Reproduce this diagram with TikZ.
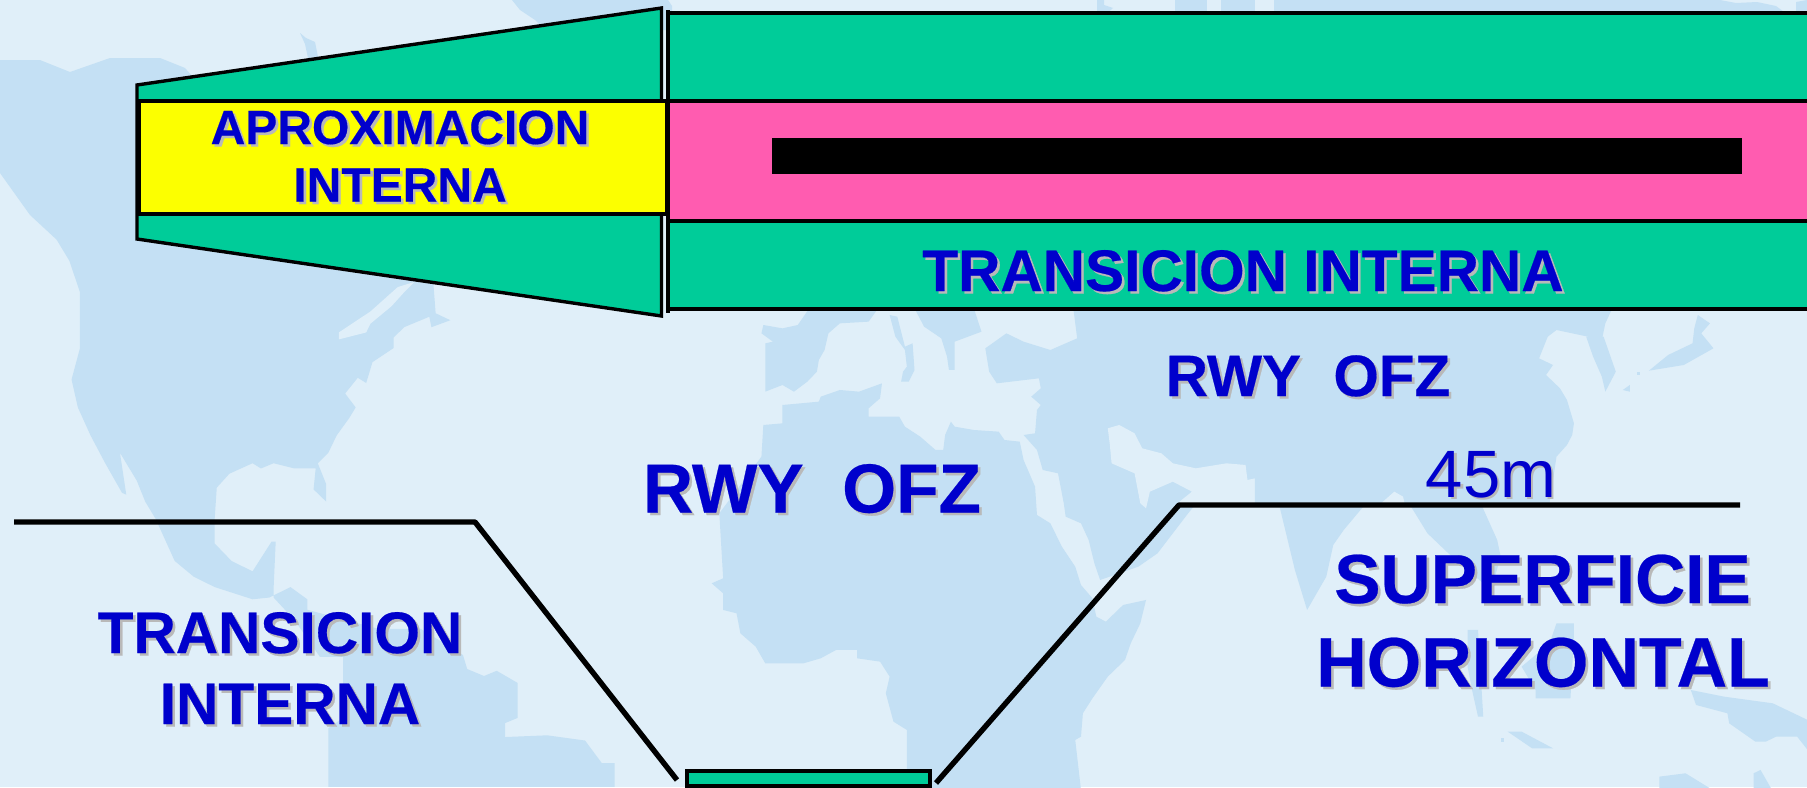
\documentclass[tikz,border=0pt]{standalone}
\usepackage{fontspec}
\setmainfont[BoldFeatures={FakeBold=0.35}]{Liberation Sans}
\definecolor{seabg}{HTML}{E0EFF9}
\definecolor{land}{HTML}{C4E0F4}
\definecolor{zonegreen}{HTML}{00CC99}
\definecolor{zonepink}{HTML}{FF5CB0}
\definecolor{zoneyellow}{HTML}{FCFF00}
\definecolor{labelblue}{HTML}{0000CC}
\definecolor{labelshadow}{HTML}{B9B9B9}
\newcommand{\fsz}[1]{\fontsize{#1}{#1}\selectfont}
\newcommand{\shlabel}[5][\bfseries]{%
  \node[labelshade,font={\fsz{#3}#1}] (#2s) at ([shift={(2.6,2.6)}]#4) {#5};
  \node[labeltext,font={\fsz{#3}#1}] (#2) at (#4) {#5};}
\tikzset{
  x=0.5pt,y=-0.5pt,
  labeltext/.style={anchor=base,inner sep=0pt,text=labelblue},
  labelshade/.style={anchor=base,inner sep=0pt,text=labelshadow},
  zone/.style={draw=black,line width=1.7pt,line join=miter},
  prof/.style={draw=black,line width=2.7pt,line join=round},
  landpart/.style={fill=land,draw=none},
  seapart/.style={fill=seabg,draw=none},
}
\begin{document}
\begin{tikzpicture}
\useasboundingbox (0,0) rectangle (1807,787);
\begin{scope}
\clip (0,0) rectangle (1807,787);
\fill[seabg] (0,0) rectangle (1807,787);
% ---- map, top
\fill[landpart] (0,60) -- (40,60) -- (70,72) -- (110,58) -- (160,58) -- (185,68) -- (200,85) -- (300,150) -- (300,240) -- (57,240) -- (30,215) -- (0,173) -- cycle;
\fill[landpart] (300,33) -- (306,38) -- (315,42) -- (318,57) -- (308,58) -- (305,44) -- cycle;
\fill[landpart] (512,0) -- (520,10) -- (535,20) -- (545,30) -- (672,30) -- (672,6) -- (668,0) -- cycle;
\fill[landpart] (1097,0) -- (1104,0) -- (1104,5) -- (1113,8) -- (1104,16) -- (1097,16) -- cycle;
\fill[landpart] (1175,0) -- (1207,0) -- (1207,16) -- (1175,16) -- cycle;
\fill[landpart] (1221,0) -- (1255,0) -- (1255,16) -- (1221,16) -- cycle;
\fill[landpart] (1274,0) -- (1720,0) -- (1736,3) -- (1757,2) -- (1776,6) -- (1784,12) -- (1784,16) -- (1274,16) -- cycle;
\fill[landpart] (1796,2) -- (1807,0) -- (1807,16) -- (1796,16) -- cycle;
% ---- Americas
\begin{scope}[shift={(0,240)},xscale=0.4209,yscale=0.3488]
\fill[landpart] (135,0) -- (165,60) -- (190,150) -- (190,310) -- (170,400) -- (185,480) -- (215,560) -- (250,640) -- (290,725) -- (300,730) -- (285,610) -- (325,690) -- (345,750) -- (370,800) -- (400,880) -- (415,920) -- (460,965) -- (510,995) -- (600,1030) -- (640,1025) -- (690,995) -- (730,1030) -- (730,1060) -- (900,1115) -- (1000,1115) -- (1100,1190) -- (1110,1230) -- (1150,1250) -- (1180,1235) -- (1230,1270) -- (1230,1370) -- (1200,1385) -- (1200,1425) -- (1300,1420) -- (1390,1435) -- (1430,1500) -- (1460,1500) -- (1460,1568) -- (780,1568) -- (780,1400) -- (815,1370) -- (815,1195) -- (760,1195) -- (700,1090) -- (650,1025) -- (650,1000) -- (655,865) -- (645,865) -- (600,950) -- (550,920) -- (510,870) -- (510,800) -- (515,710) -- (545,670) -- (600,640) -- (620,655) -- (650,640) -- (700,655) -- (750,655) -- (745,715) -- (775,750) -- (775,700) -- (755,640) -- (780,610) -- (800,560) -- (830,510) -- (845,480) -- (820,440) -- (850,395) -- (870,410) -- (885,350) -- (935,310) -- (935,280) -- (960,250) -- (1020,220) -- (1025,250) -- (1070,230) -- (1035,210) -- (1030,130) -- (1010,60) -- (700,0) -- cycle;
\fill[seapart] (805,265) -- (880,205) -- (945,135) -- (985,120) -- (960,150) -- (930,190) -- (880,240) -- (870,265) -- (805,285) -- cycle;
\end{scope}
% ---- Europe, Africa, Asia
\begin{scope}[shift={(660,300)},xscale=0.3827,yscale=0.3333]
\fill[landpart] (270,75) -- (320,85) -- (360,75) -- (390,25) -- (570,25) -- (545,65) -- (470,70) -- (440,100) -- (430,150) -- (415,180) -- (410,215) -- (385,245) -- (350,275) -- (320,255) -- (275,275) -- (275,130) -- (295,125) -- (265,100) -- cycle;
\fill[landpart] (600,45) -- (620,50) -- (640,140) -- (660,130) -- (665,210) -- (650,245) -- (630,245) -- (635,215) -- (645,200) -- (640,150) -- (615,110) -- cycle;
\fill[landpart] (665,25) -- (820,25) -- (840,95) -- (770,125) -- (770,210) -- (755,210) -- (750,170) -- (735,115) -- (690,80) -- cycle;
\fill[landpart] (270,375) -- (320,370) -- (320,315) -- (415,305) -- (420,290) -- (470,270) -- (520,275) -- (580,250) -- (575,295) -- (545,325) -- (545,350) -- (625,350) -- (640,380) -- (680,410) -- (720,450) -- (740,450) -- (745,405) -- (760,365) -- (770,380) -- (820,390) -- (885,395) -- (900,420) -- (940,425) -- (950,480) -- (980,560) -- (985,645) -- (1020,670) -- (1050,740) -- (1085,800) -- (1100,855) -- (1130,895) -- (1140,950) -- (1165,965) -- (1210,915) -- (1270,900) -- (1255,970) -- (1230,1030) -- (1215,1080) -- (1170,1130) -- (1130,1195) -- (1105,1240) -- (1100,1310) -- (1085,1320) -- (1100,1470) -- (645,1470) -- (645,1290) -- (610,1265) -- (590,1180) -- (600,1130) -- (575,1085) -- (515,1075) -- (515,1050) -- (460,1050) -- (420,1075) -- (375,1090) -- (275,1090) -- (250,1040) -- (210,1000) -- (200,940) -- (165,930) -- (165,880) -- (135,850) -- (165,835) -- (155,640) -- (265,470) -- cycle;
% Asia, Arabia
\fill[landpart] (1080,25) -- (1090,115) -- (1020,150) -- (950,125) -- (905,100) -- (850,145) -- (860,215) -- (880,250) -- (990,235) -- (995,265) -- (970,290) -- (995,315) -- (985,330) -- (980,400) -- (950,405) -- (985,450) -- (1000,510) -- (1040,520) -- (1055,610) -- (1060,650) -- (1100,670) -- (1120,720) -- (1135,790) -- (1150,840) -- (1250,800) -- (1300,760) -- (1380,640) -- (1400,612) -- (1580,612) -- (1580,25) -- cycle;
\fill[seapart] (1170,385) -- (1200,375) -- (1240,400) -- (1260,445) -- (1310,460) -- (1340,490) -- (1400,505) -- (1480,490) -- (1530,495) -- (1535,540) -- (1575,530) -- (1575,612) -- (1350,612) -- (1390,575) -- (1340,545) -- (1280,575) -- (1270,625) -- (1255,610) -- (1240,520) -- (1180,490) -- (1175,430) -- cycle;
\end{scope}
\begin{scope}[shift={(1260,300)},xscale=0.3488,yscale=0.3333]
% east Asia
\fill[landpart] (-15,25) -- (1010,25) -- (990,70) -- (980,120) -- (940,110) -- (850,90) -- (825,110) -- (800,175) -- (840,195) -- (820,225) -- (860,265) -- (880,300) -- (900,370) -- (895,405) -- (880,435) -- (850,470) -- (830,610) -- (-15,610) -- (-15,545) -- cycle;
\fill[landpart] (935,110) -- (985,110) -- (1020,215) -- (990,275) -- (980,230) -- (955,170) -- cycle;
\fill[seapart] (345,612) -- (385,575) -- (410,590) -- (415,612) -- cycle;
% India and Indochina
\fill[landpart] (55,615) -- (300,615) -- (240,690) -- (210,735) -- (190,830) -- (135,930) -- (100,810) -- cycle;
\fill[landpart] (430,615) -- (635,615) -- (680,720) -- (690,770) -- (660,880) -- (640,850) -- (540,760) -- (480,700) -- cycle;
% Japan and islands
\fill[landpart] (1255,45) -- (1290,70) -- (1265,100) -- (1300,145) -- (1215,195) -- (1115,212) -- (1170,165) -- (1210,145) -- (1240,130) -- (1245,85) -- cycle;
\fill[landpart] (1040,270) -- (1060,255) -- (1060,275) -- cycle;
\fill[landpart] (1080,215) -- (1090,215) -- (1090,225) -- (1080,225) -- cycle;
\fill[landpart] (595,990) -- (625,990) -- (640,1250) -- (625,1250) -- (610,1180) -- (595,1100) -- cycle;
\fill[landpart] (850,970) -- (900,970) -- (900,1010) -- (890,1195) -- (790,1195) -- (790,1170) -- (750,1100) -- (830,1030) -- cycle;
\fill[landpart] (1235,1170) -- (1330,1190) -- (1470,1210) -- (1530,1240) -- (1570,1260) -- (1570,1350) -- (1540,1310) -- (1480,1310) -- (1450,1325) -- (1420,1325) -- (1345,1270) -- (1340,1240) -- (1250,1215) -- cycle;
\fill[landpart] (710,1295) -- (750,1295) -- (840,1345) -- (780,1345) -- cycle;
\fill[landpart] (690,1315) -- (700,1315) -- (700,1325) -- (690,1325) -- cycle;
\fill[landpart] (1145,1430) -- (1220,1420) -- (1290,1465) -- (1145,1465) -- cycle;
\fill[landpart] (1415,1420) -- (1435,1410) -- (1465,1465) -- (1415,1465) -- cycle;
\end{scope}
% ---- plan of the zones
\draw[zone,fill=zonegreen] (137,85) -- (661.5,8) -- (661.5,316) -- (137,239) -- cycle;
\draw[zone,fill=zonegreen] (668,13) -- (1830,13) -- (1830,309) -- (668,309);
\draw[zone] (668,10) -- (668,313);
\draw[zone,fill=zoneyellow] (139,101) rectangle (666.5,214);
\draw[zone,fill=zonepink] (668,101) rectangle (1830,221);
\fill[black] (772,138) rectangle (1742,174);
% ---- cross-section
\coordinate (lstart) at (14,522);
\coordinate (lknee) at (475,522);
\coordinate (lfoot) at (677,780);
\coordinate (rfoot) at (936,783);
\coordinate (rknee) at (1179,505);
\coordinate (rend) at (1740,505);
\draw[prof] (lstart) -- (lknee) -- (lfoot);
\draw[prof] (rfoot) -- (rknee) -- (rend);
\draw[zone,fill=zonegreen] (687,771) rectangle (930,786);
% ---- labels
\shlabel{aprox}{24}{400,144}{APROXIMACION}
\shlabel{inter}{24}{400,201.5}{INTERNA}
\shlabel{trtop}{29.3}{1243,291}{TRANSICION INTERNA}
\shlabel{ofzs}{29.2}{1308,396}{RWY\ \ OFZ}
\shlabel{ofzl}{34.7}{812,512.5}{RWY\ \ OFZ}
\shlabel[\mdseries]{height}{33.5}{1491,497}{45m}
\shlabel{sup}{34.7}{1542.5,603}{SUPERFICIE}
\shlabel{hor}{35}{1543,686.5}{HORIZONTAL}
\shlabel{trl}{29.3}{280,653}{TRANSICION}
\shlabel{inl}{29.3}{290,724}{INTERNA}
\end{scope}
\end{tikzpicture}
\end{document}
